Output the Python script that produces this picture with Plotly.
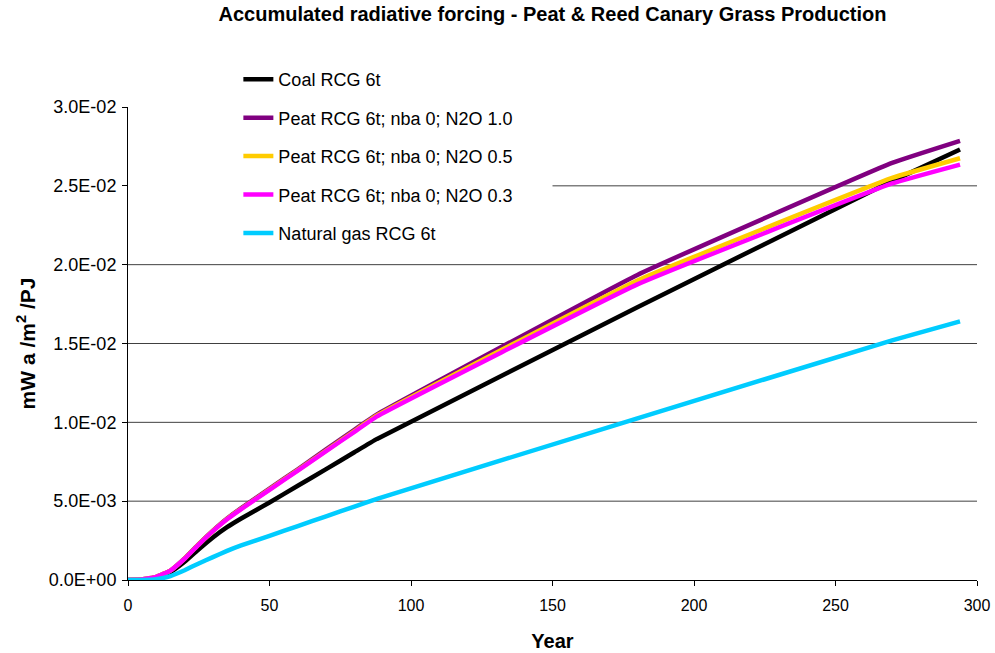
import plotly.graph_objects as go

# ---- data ----
years = [0, 5, 10, 15, 20, 25, 30, 35, 40, 50, 60, 70, 80, 88, 180, 270, 294]
coal = [0, 0.00002, 0.00015, 0.0005, 0.00115, 0.00195, 0.0027, 0.00335, 0.0039,
        0.00492, 0.00598, 0.00703, 0.0081, 0.00895, 0.0173, 0.0253, 0.0273]
peat_n2o_10 = [0, 0.00003, 0.0002, 0.0006, 0.00137, 0.00228, 0.00313, 0.0039, 0.00456,
               0.0058, 0.00702, 0.00828, 0.00953, 0.0105, 0.01935, 0.02645, 0.02785]
peat_n2o_05 = [0, 0.00003, 0.0002, 0.0006, 0.00136, 0.00226, 0.00311, 0.00387, 0.00452,
               0.00575, 0.00697, 0.0082, 0.00945, 0.01043, 0.0190, 0.0255, 0.02675]
peat_n2o_03 = [0, 0.00003, 0.0002, 0.0006, 0.00135, 0.00225, 0.0031, 0.00385, 0.0045,
               0.00572, 0.00694, 0.00817, 0.0094, 0.01038, 0.01875, 0.02515, 0.02635]
natural_gas = [0, 0.0, 0.00005, 0.00025, 0.00062, 0.00105, 0.00145, 0.00185, 0.0022,
               0.0028, 0.00342, 0.00404, 0.00466, 0.00515, 0.01025, 0.0152, 0.0164]

series_names = ["Coal RCG 6t", "Peat RCG 6t; nba 0; N2O 1.0", "Peat RCG 6t; nba 0; N2O 0.5",
                "Peat RCG 6t; nba 0; N2O 0.3", "Natural gas RCG 6t"]
series_values = [coal, peat_n2o_10, peat_n2o_05, peat_n2o_03, natural_gas]
series_colors = ["#000000", "#800080", "#FFCC00", "#FF00FF", "#00CCFF"]

x_ticks = [0, 50, 100, 150, 200, 250, 300]
y_ticks = [0, 0.005, 0.01, 0.015, 0.02, 0.025, 0.03]
y_tick_labels = ["0.0E+00", "5.0E-03", "1.0E-02", "1.5E-02", "2.0E-02", "2.5E-02", "3.0E-02"]
grid_y = [0.005, 0.01, 0.015, 0.02, 0.025]

title = "Accumulated radiative forcing - Peat & Reed Canary Grass Production"

fig = go.Figure()
for i, (name, vals, col) in enumerate(zip(series_names, series_values, series_colors)):
    fig.add_trace(go.Scatter(x=years, y=vals, mode="lines", name=name,
                             line=dict(color=col, width=4.5, shape="spline", smoothing=0.3),
                             legendgroup="g%d" % i))

shapes = []
for gy in grid_y:
    shapes.append(dict(type="line", xref="paper", yref="y", x0=0, x1=1, y0=gy, y1=gy,
                       line=dict(color="#404040", width=1), layer="below"))
# white legend area covering gridlines
shapes.append(dict(type="rect", xref="paper", yref="paper", x0=0.0, x1=0.50, y0=0.68, y1=1.0,
                   fillcolor="white", line=dict(width=0), layer="below"))

fig.update_layout(
    width=995, height=653,
    margin=dict(l=128, r=18, t=107, b=73),
    paper_bgcolor="white", plot_bgcolor="white",
    font=dict(family="Liberation Sans, Arial, sans-serif", color="black", size=14),
    title=dict(text="<b>" + title + "</b>", x=0.5, xref="paper", y=0.989, yanchor="top",
               font=dict(size=20)),
    showlegend=True,
    legend=dict(x=0.13, y=1.097, xanchor="left", yanchor="top", bgcolor="rgba(0,0,0,0)",
                font=dict(size=18), itemwidth=30, tracegroupgap=12),
    shapes=shapes,
    xaxis=dict(range=[0, 300], tickvals=x_ticks, showgrid=False, zeroline=False,
               showline=True, linecolor="black", linewidth=1, ticks="outside", ticklen=5,
               tickcolor="black", tickfont=dict(size=16), automargin=False,
               ticklabelstandoff=6,
               title=dict(text="<b>Year</b>", font=dict(size=20), standoff=20)),
    yaxis=dict(range=[0, 0.03], tickvals=y_ticks, ticktext=y_tick_labels, showgrid=False,
               zeroline=False, showline=True, linecolor="black", linewidth=1, ticks="outside",
               ticklen=5, tickcolor="black", tickfont=dict(size=18), automargin=False,
               ticklabelstandoff=2,
               title=dict(text="<b>mW a /m<sup>2</sup> /PJ</b>", font=dict(size=21), standoff=7)),
)

fig.write_html("out.html")
